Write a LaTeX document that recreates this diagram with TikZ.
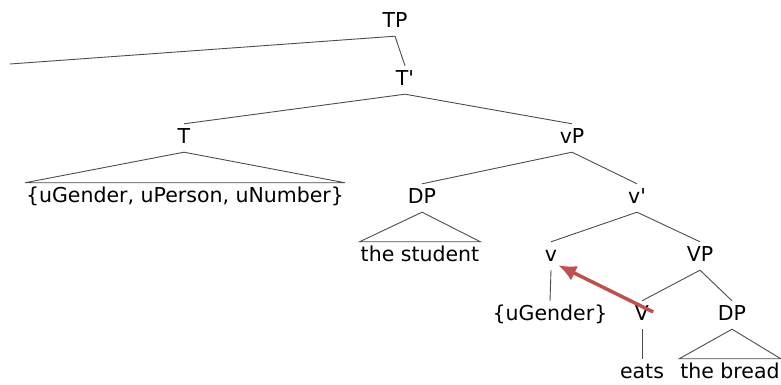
\documentclass[tikz,border=0pt]{standalone}
\usepackage{fontspec}
\setmainfont{DejaVu Sans}
\usetikzlibrary{arrows.meta}
\definecolor{moveRed}{RGB}{192,80,77}
\begin{document}
\begin{tikzpicture}[x=1pt,y=1pt,
  lbl/.style={font=\fontsize{20.5}{24}\selectfont, text height=17pt, text depth=5pt, inner xsep=1pt, inner ysep=3pt},
  branch/.style={draw=black!70, line width=0.9pt},
  move/.style={draw=moveRed, line width=3.5pt, -{Latex[length=18pt,width=16pt]}}]
\useasboundingbox (0,0) rectangle (781,385);
\node[lbl] (TP) at (395,363) {TP};
\node[lbl] (Tbar) at (405,305) {T\textquotesingle};
\node[lbl] (T) at (184,247) {T};
\node[lbl] (vP) at (572,247) {vP};
\node[lbl] (Tfeat) at (185,188) {\{uGender, uPerson, uNumber\}};
\node[lbl] (DPs) at (422,187) {DP};
\node[lbl] (vbar) at (637,187) {v\textquotesingle};
\node[lbl] (student) at (420,129) {the student};
\node[lbl] (v) at (551,129) {v};
\node[lbl] (VP) at (700,129) {VP};
\node[lbl] (vfeat) at (550,70) {\{uGender\}};
\node[lbl] (V) at (642,70) {V};
\node[lbl] (DPo) at (732,70) {DP};
\node[lbl] (eats) at (642,12) {eats};
\node[lbl] (bread) at (730,12) {the bread};
\coordinate (spec) at (10,321);
\draw[branch] (TP.south) -- (spec);
\draw[branch] (TP.south) -- (Tbar.north);
\draw[branch] (Tbar.south) -- (T.north);
\draw[branch] (Tbar.south) -- (vP.north);
\draw[branch] (Tfeat.north west) -- (T.south) -- (Tfeat.north east) -- cycle;
\draw[branch] (vP.south) -- (DPs.north);
\draw[branch] (vP.south) -- (vbar.north);
\draw[branch] (student.north west) -- (DPs.south) -- (student.north east) -- cycle;
\draw[branch] (vbar.south) -- (v.north);
\draw[branch] (vbar.south) -- (VP.north);
\draw[branch] (v.south) -- (vfeat.north);
\draw[branch] (VP.south) -- (V.north);
\draw[branch] (VP.south) -- (DPo.north);
\draw[branch] (V.south) -- (eats.north);
\draw[branch] (bread.north west) -- (DPo.south) -- (bread.north east) -- cycle;
\draw[move] ([xshift=3pt,yshift=3pt]V.east) -- ([yshift=5pt]v.south east);
\end{tikzpicture}
\end{document}
